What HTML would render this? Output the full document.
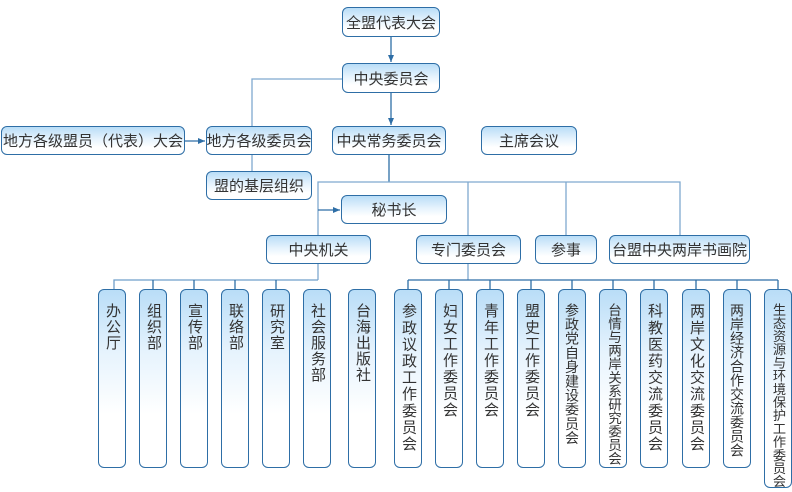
<!DOCTYPE html>
<html><head><meta charset="utf-8"><style>
body{margin:0;width:792px;height:492px;background:#fff;position:relative;overflow:hidden;font-family:"Liberation Sans","Noto Sans CJK SC",sans-serif;color:#333}
.b{position:absolute;box-sizing:border-box;border:1.3px solid #2e6ea6;border-radius:6px;background:linear-gradient(#b9ddf7 0%,#e6f3fd 45%,#fff 75%);font-size:15px;display:flex;align-items:center;justify-content:center;white-space:nowrap}
.v{position:absolute;box-sizing:border-box;border:1.3px solid #2e6ea6;border-radius:6px;background:linear-gradient(#b9ddf7 0%,#e6f3fd 35%,#fff 70%);top:289px;height:179px;width:28px}
.v span{position:absolute;top:13px;left:0;width:100%;writing-mode:vertical-rl;font-size:15px;line-height:26px;white-space:nowrap;display:block;text-align:left}
svg{position:absolute;left:0;top:0}
</style></head><body>
<svg width="792" height="492">
<defs><marker id="a" markerWidth="8" markerHeight="8" refX="7" refY="4" orient="auto" markerUnits="userSpaceOnUse"><path d="M0,1 L7,4 L0,7 Z" fill="#2e6ea6"/></marker></defs>
<g stroke="#7fa9cf" stroke-width="1.3" fill="none">
<line x1="391" y1="37" x2="391" y2="62" stroke="#2e6ea6" marker-end="url(#a)"/>
<line x1="391" y1="92" x2="391" y2="125" stroke="#2e6ea6" marker-end="url(#a)"/>
<polyline points="342,79 252,79 252,126"/>
<line x1="185" y1="141" x2="205" y2="141" stroke="#2e6ea6" marker-end="url(#a)"/>
<line x1="252" y1="154" x2="252" y2="171"/>
<line x1="389" y1="154" x2="389" y2="182" stroke="#2e6ea6"/>
<polyline points="318,280 318,182 680,182 680,235"/>
<line x1="468" y1="182" x2="468" y2="280"/>
<line x1="566" y1="182" x2="566" y2="235"/>
<line x1="318" y1="210" x2="340" y2="210" stroke="#2e6ea6" marker-end="url(#a)"/>
<polyline points="114,289 114,280 318,280" stroke="#6f9fc9"/>
<g stroke="#2e6ea6">
<line x1="408" y1="280" x2="778" y2="280"/>
<line x1="408" y1="280" x2="408" y2="289"/><line x1="449" y1="280" x2="449" y2="289"/><line x1="490" y1="280" x2="490" y2="289"/><line x1="531" y1="280" x2="531" y2="289"/><line x1="572" y1="280" x2="572" y2="289"/><line x1="613" y1="280" x2="613" y2="289"/><line x1="654" y1="280" x2="654" y2="289"/><line x1="696" y1="280" x2="696" y2="289"/><line x1="737" y1="280" x2="737" y2="289"/><line x1="778" y1="280" x2="778" y2="289"/>
<line x1="153" y1="280" x2="153" y2="289"/><line x1="194" y1="280" x2="194" y2="289"/><line x1="235" y1="280" x2="235" y2="289"/><line x1="276" y1="280" x2="276" y2="289"/>
</g>
</g></svg>
<div class="b" style="left:342px;top:7px;width:98px;height:30px">全盟代表大会</div>
<div class="b" style="left:342px;top:63px;width:98px;height:30px">中央委员会</div>
<div class="b" style="left:1px;top:126px;width:184px;height:29px">地方各级盟员（代表）大会</div>
<div class="b" style="left:206px;top:126px;width:106px;height:29px">地方各级委员会</div>
<div class="b" style="left:206px;top:171px;width:106px;height:29px">盟的基层组织</div>
<div class="b" style="left:332px;top:126px;width:114px;height:29px">中央常务委员会</div>
<div class="b" style="left:481px;top:126px;width:96px;height:29px">主席会议</div>
<div class="b" style="left:341px;top:195px;width:106px;height:29px">秘书长</div>
<div class="b" style="left:266px;top:235px;width:105px;height:29px">中央机关</div>
<div class="b" style="left:416px;top:235px;width:105px;height:29px">专门委员会</div>
<div class="b" style="left:535px;top:235px;width:62px;height:29px">参事</div>
<div class="b" style="left:609px;top:235px;width:141px;height:29px">台盟中央两岸书画院</div>

<div class="v" style="left:98px"><span style="letter-spacing:1px">办公厅</span></div>
<div class="v" style="left:139px"><span style="letter-spacing:1px">组织部</span></div>
<div class="v" style="left:180px"><span style="letter-spacing:1px">宣传部</span></div>
<div class="v" style="left:221px"><span style="letter-spacing:1px">联络部</span></div>
<div class="v" style="left:262px"><span style="letter-spacing:1px">研究室</span></div>
<div class="v" style="left:303px"><span style="letter-spacing:1px">社会服务部</span></div>
<div class="v" style="left:348px"><span style="letter-spacing:1px">台海出版社</span></div>

<div class="v" style="left:394px"><span style="letter-spacing:1.6px">参政议政工作委员会</span></div>
<div class="v" style="left:435px"><span style="letter-spacing:1.5px">妇女工作委员会</span></div>
<div class="v" style="left:476px"><span style="letter-spacing:1.5px">青年工作委员会</span></div>
<div class="v" style="left:517px"><span style="letter-spacing:1.5px">盟史工作委员会</span></div>
<div class="v" style="left:558px"><span style="font-size:14px;letter-spacing:0.2px">参政党自身建设委员会</span></div>
<div class="v" style="left:599px"><span style="font-size:13.5px;letter-spacing:0">台情与两岸关系研究委员会</span></div>
<div class="v" style="left:640px"><span style="letter-spacing:1.6px">科教医药交流委员会</span></div>
<div class="v" style="left:682px"><span style="letter-spacing:1.6px">两岸文化交流委员会</span></div>
<div class="v" style="left:723px"><span style="font-size:14px;letter-spacing:0">两岸经济合作交流委员会</span></div>
<div class="v" style="left:764px;height:199px"><span style="font-size:13.2px;letter-spacing:0">生态资源与环境保护工作委员会</span></div>
</body></html>
